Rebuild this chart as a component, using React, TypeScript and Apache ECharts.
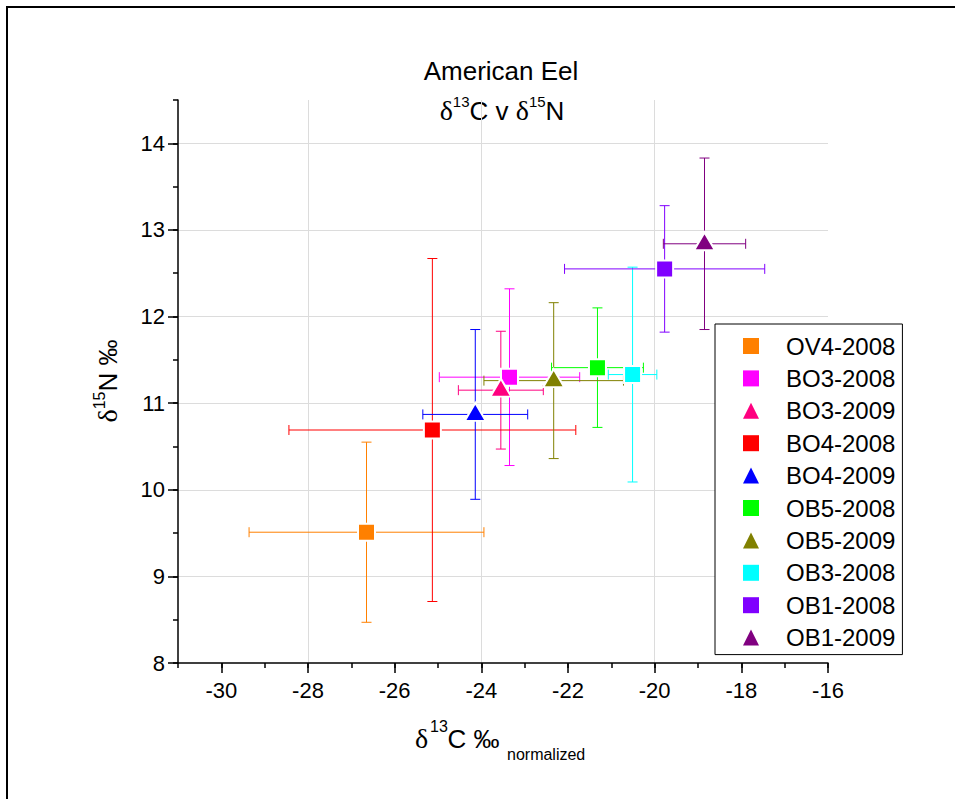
import React, { useEffect, useRef } from 'react';
import * as echarts from 'echarts';

const names = ['OV4-2008', 'BO3-2008', 'BO3-2009', 'BO4-2008', 'BO4-2009', 'OB5-2008', 'OB5-2009', 'OB3-2008', 'OB1-2008', 'OB1-2009'];
const d13C = [-26.65, -23.35, -23.55, -25.13, -24.14, -21.32, -22.33, -20.51, -19.77, -18.85];
const d15N = [9.51, 11.30, 11.15, 10.69, 10.87, 11.41, 11.26, 11.33, 12.55, 12.84];
const d13CErr = [2.71, 1.62, 0.98, 3.31, 1.21, 1.06, 1.61, 0.56, 2.31, 0.95];
const d15NErr = [1.04, 1.02, 0.68, 1.98, 0.98, 0.69, 0.90, 1.24, 0.73, 0.99];
const symbols = ['rect', 'rect', 'triangle', 'rect', 'triangle', 'rect', 'triangle', 'rect', 'rect', 'triangle'];
const colors = ['#ff8000', '#ff00ff', '#ff0080', '#ff0000', '#0000ff', '#00ff00', '#808000', '#00ffff', '#8000ff', '#800080'];
const xTicks = [-30, -28, -26, -24, -22, -20, -18, -16];
const yTicks = [8, 9, 10, 11, 12, 13, 14];

const FONT = 'Liberation Sans';
const SERIF = 'Liberation Serif';

export default function App() {
  const ref = useRef<HTMLDivElement>(null);
  useEffect(() => {
    const chart = echarts.init(ref.current as HTMLDivElement, null, { renderer: 'svg' });

    const scatterSeries = names.map((n, i) => ({
      type: 'scatter',
      name: n,
      data: [[d13C[i], d15N[i]]],
      symbol: symbols[i],
      symbolSize: symbols[i] === 'triangle' ? [21, 18] : 17,
      symbolOffset: symbols[i] === 'triangle' ? [0, -2.5] : [0, 0],
      itemStyle: { color: colors[i], borderColor: '#ffffff', borderWidth: 2, opacity: 1 },
      z: 3,
      silent: true,
    }));

    const errSeries = {
      type: 'custom',
      name: 'errorbars',
      silent: true,
      z: 2,
      data: names.map((n, i) => [d13C[i], d15N[i], d13CErr[i], d15NErr[i], i]),
      encode: { x: 0, y: 1 },
      renderItem: (params: any, api: any) => {
        const x = api.value(0);
        const y = api.value(1);
        const ex = api.value(2);
        const ey = api.value(3);
        const idx = api.value(4);
        const l = api.coord([x - ex, y]);
        const r = api.coord([x + ex, y]);
        const t = api.coord([x, y + ey]);
        const b = api.coord([x, y - ey]);
        const cap = 5;
        const style = { stroke: colors[idx], lineWidth: 1, fill: null };
        const ln = (x1: number, y1: number, x2: number, y2: number) => ({
          type: 'line',
          shape: { x1, y1, x2, y2 },
          style,
        });
        return {
          type: 'group',
          children: [
            ln(l[0], l[1], r[0], r[1]),
            ln(t[0], t[1], b[0], b[1]),
            ln(l[0], l[1] - cap, l[0], l[1] + cap),
            ln(r[0], r[1] - cap, r[0], r[1] + cap),
            ln(t[0] - cap, t[1], t[0] + cap, t[1]),
            ln(b[0] - cap, b[1], b[0] + cap, b[1]),
          ],
        };
      },
    };

    const axisBlack = { color: '#000', width: 1.5 };

    const option: any = {
      animation: false,
      backgroundColor: '#ffffff',
      textStyle: { fontFamily: FONT },
      grid: { left: 178, top: 100, right: 127, bottom: 136 },
      xAxis: [
        {
          type: 'value', min: -31, max: -16, interval: 1, position: 'bottom',
          axisLine: { show: true, onZero: false, lineStyle: axisBlack },
          axisTick: { show: true, length: 10, customValues: xTicks, lineStyle: axisBlack },
          axisLabel: {
            customValues: xTicks,
            formatter: (v: number) => (Math.abs(v % 2) < 1e-9 ? String(v) : ''),
            fontSize: 22, color: '#000', margin: 16, fontFamily: FONT,
          },
          splitLine: {
            show: true, showMinLine: false, showMaxLine: false,
            lineStyle: { color: ['#dcdcdc', 'rgba(0,0,0,0)'], width: 1 },
          },
        },
        {
          type: 'value', min: -31, max: -16, interval: 1, position: 'bottom', offset: 0,
          axisLine: { show: false, onZero: false },
          axisTick: { show: true, length: 5, lineStyle: axisBlack },
          axisLabel: { show: false },
          splitLine: { show: false },
        },
      ],
      yAxis: [
        {
          type: 'value', min: 8, max: 14.5, interval: 1, position: 'left',
          axisLine: { show: true, onZero: false, lineStyle: axisBlack },
          axisTick: { show: true, length: 10, customValues: yTicks, lineStyle: axisBlack },
          axisLabel: {
            customValues: yTicks,
            formatter: (v: number) => (Math.abs(v % 1) < 1e-9 ? String(v) : ''),
            fontSize: 22, color: '#000', margin: 13, fontFamily: FONT,
          },
          splitLine: {
            show: true, showMinLine: false, showMaxLine: true,
            lineStyle: { color: '#dcdcdc', width: 1 },
          },
        },
        {
          type: 'value', min: 8, max: 14.5, interval: 0.5, position: 'left', offset: 0,
          axisLine: { show: false, onZero: false },
          axisTick: { show: true, length: 5, lineStyle: axisBlack },
          axisLabel: { show: false },
          splitLine: { show: false },
        },
      ],
      legend: {
        data: names,
        orient: 'vertical',
        left: 715,
        top: 324,
        padding: [10, 7, 5, 28],
        itemWidth: 16,
        itemHeight: 16,
        itemGap: 8.4,
        selectedMode: false,
        backgroundColor: '#ffffff',
        borderColor: '#000000',
        borderWidth: 1,
        borderRadius: 0,
        itemStyle: { borderWidth: 0 },
        textStyle: { fontSize: 24, fontFamily: FONT, color: '#000', padding: [0, 0, 0, 22] },
      },
      graphic: [
        { type: 'line', shape: { x1: 6, y1: 7, x2: 955, y2: 7 }, style: { stroke: '#000', lineWidth: 2 } },
        { type: 'line', shape: { x1: 7, y1: 6, x2: 7, y2: 799 }, style: { stroke: '#000', lineWidth: 2 } },
        {
          type: 'text', x: 501, y: 71,
          style: { text: 'American Eel', fontSize: 26, fontFamily: FONT, fill: '#000', align: 'center', verticalAlign: 'middle' },
        },
        {
          type: 'text', x: 502, y: 109,
          style: {
            text: '{d|δ}{s|13}{m|C v }{d|δ}{s|15}{m|N}',
            align: 'center', verticalAlign: 'middle', fill: '#000',
            fontSize: 26, fontFamily: FONT, lineHeight: 30,
            rich: {
              m: { fontSize: 26, fontFamily: FONT, lineHeight: 30, verticalAlign: 'bottom', fill: '#000' },
              d: { fontSize: 28, fontFamily: SERIF, lineHeight: 30, verticalAlign: 'bottom', fill: '#000' },
              s: { fontSize: 15, fontFamily: FONT, lineHeight: 20, verticalAlign: 'top', fill: '#000' },
            },
          },
        },
        {
          type: 'text', x: 415, y: 738.5,
          style: { text: 'δ', fontSize: 28, fontFamily: SERIF, fill: '#000', align: 'left', verticalAlign: 'middle' },
        },
        {
          type: 'text', x: 430, y: 726,
          style: { text: '13', fontSize: 16, fontFamily: FONT, fill: '#000', align: 'left', verticalAlign: 'middle' },
        },
        {
          type: 'text', x: 447.5, y: 739,
          style: { text: 'C ‰', fontSize: 26, fontFamily: FONT, fill: '#000', align: 'left', verticalAlign: 'middle' },
        },
        {
          type: 'text', x: 507, y: 754.5,
          style: { text: 'normalized', fontSize: 16, fontFamily: FONT, fill: '#000', align: 'left', verticalAlign: 'middle' },
        },
        {
          type: 'text', x: 106, y: 381, rotation: Math.PI / 2,
          style: {
            text: '{d|δ}{s|15}{m|N ‰}',
            align: 'center', verticalAlign: 'middle', fill: '#000',
            fontSize: 26, fontFamily: FONT, lineHeight: 30,
            rich: {
              m: { fontSize: 26, fontFamily: FONT, lineHeight: 30, verticalAlign: 'bottom', fill: '#000' },
              d: { fontSize: 28, fontFamily: SERIF, lineHeight: 30, verticalAlign: 'bottom', fill: '#000' },
              s: { fontSize: 16, fontFamily: FONT, lineHeight: 13, verticalAlign: 'top', fill: '#000' },
            },
          },
        },
      ],
      series: [errSeries, ...scatterSeries],
    };

    chart.setOption(option);
    return () => chart.dispose();
  }, []);
  return <div ref={ref} style={{ position: 'absolute', left: 0, top: 0, width: 955, height: 799 }} />;
}
